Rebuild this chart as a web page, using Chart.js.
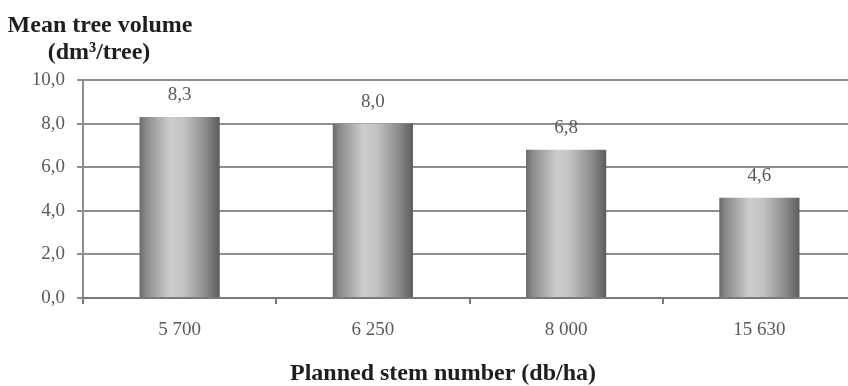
<!DOCTYPE html>
<html>
<head>
<meta charset="utf-8">
<script src="https://cdn.jsdelivr.net/npm/chart.js@4.4.1/dist/chart.umd.min.js"></script>
<style>
  html, body { margin:0; padding:0; background:#fff; overflow:hidden; }
  #wrap { position:relative; width:856px; height:386px; }
</style>
</head>
<body>
<div id="wrap"><canvas id="grafico"></canvas></div>
<script>
// ----------------------
// DADOS
// ----------------------
const stemNumbers = ['5 700', '6 250', '8 000', '15 630'];
const meanVolume = [8.3, 8.0, 6.8, 4.6];
const yTicks = [0, 2, 4, 6, 8, 10];

const yTitle = ['Mean tree volume', '(dm\u00b3/tree)'];
const xTitle = 'Planned stem number (db/ha)';

const fmt = v => v.toFixed(1).replace('.', ',');
const serif = '"Liberation Serif", "Times New Roman", serif';

// ----------------------
// GRADIENTE DAS BARRAS
// ----------------------
function barGradient(ctx){
  const chart = ctx.chart;
  const x = chart.scales.x;
  if(!x || !x.width) return '#aaa';
  const cx = x.getPixelForValue(ctx.dataIndex);
  const w = x.width / stemNumbers.length * 0.415;
  const g = chart.ctx.createLinearGradient(cx - w/2, 0, cx + w/2, 0);
  g.addColorStop(0, '#6a6a6a');
  g.addColorStop(0.08, '#8a8a8a');
  g.addColorStop(0.38, '#cdcdd0');
  g.addColorStop(0.55, '#c2c2c4');
  g.addColorStop(0.82, '#8c8c8c');
  g.addColorStop(1, '#5c5c5c');
  return g;
}

// ----------------------
// ROTULOS E TITULOS
// ----------------------
const labelsPlugin = {
  id:'labels',
  afterDatasetsDraw(chart){
    const c = chart.ctx;
    c.save();
    c.font = '19px ' + serif;
    c.fillStyle = '#5a5a5a';
    c.textAlign = 'center';
    c.textBaseline = 'alphabetic';
    chart.getDatasetMeta(0).data.forEach((el, i) => {
      c.fillText(fmt(meanVolume[i]), el.x, el.y - 17);
    });
    c.restore();
  },
  afterDraw(chart){
    const c = chart.ctx;
    c.save();
    c.fillStyle = '#1e1e1e';
    c.font = 'bold 24px ' + serif;
    c.textAlign = 'center';
    c.textBaseline = 'alphabetic';
    c.fillText(yTitle[0], 100, 32);
    c.fillText(yTitle[1], 99, 59);
    c.fillText(xTitle, 443, 380);
    c.restore();
  }
};

// ----------------------
// GRAFICO
// ----------------------
const ctx = document.getElementById('grafico').getContext('2d');
new Chart(ctx, {
  type:'bar',
  data:{
    labels:stemNumbers,
    datasets:[{
      label:'Mean tree volume',
      data:meanVolume,
      backgroundColor:barGradient,
      borderWidth:0,
      barPercentage:0.415,
      categoryPercentage:1
    }]
  },
  options:{
    responsive:true,
    maintainAspectRatio:false,
    animation:false,
    layout:{ padding:{ top:80, left:0, right:0, bottom:0 } },
    plugins:{ legend:{ display:false }, tooltip:{ enabled:false } },
    scales:{
      y:{
        min:0, max:10,
        afterFit(scale){ scale.width = 83; },
        afterBuildTicks(scale){ scale.ticks = yTicks.map(v => ({ value:v })); },
        ticks:{
          color:'#5a5a5a', padding:12,
          font:{ family:serif, size:19 },
          callback:v => fmt(v)
        },
        grid:{ color:'#8e8e8e', lineWidth:2, tickLength:6 },
        border:{ color:'#8e8e8e', width:2 }
      },
      x:{
        afterFit(scale){ scale.height = 88; },
        ticks:{
          color:'#5a5a5a', padding:15,
          font:{ family:serif, size:19 }
        },
        grid:{ offset:true, drawOnChartArea:false, color:'#7a7a7a', lineWidth:2, tickLength:6 },
        border:{ color:'#7a7a7a', width:2 }
      }
    }
  },
  plugins:[labelsPlugin]
});
</script>
</body>
</html>
